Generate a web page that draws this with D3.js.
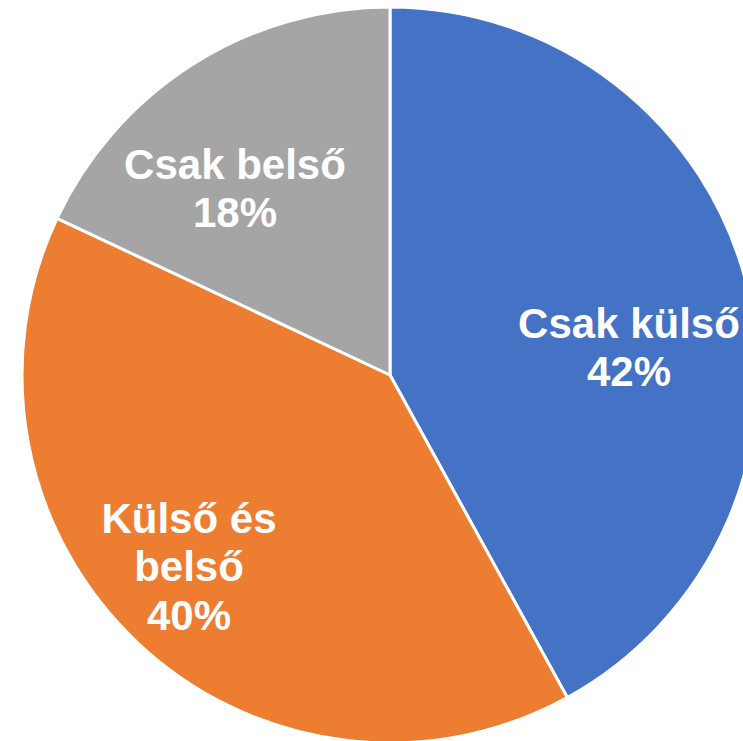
<!DOCTYPE html>
<html><head><meta charset="utf-8">
<script src="https://cdn.jsdelivr.net/npm/d3@7"></script>
<style>html,body{margin:0;padding:0;background:#fff;overflow:hidden}</style>
</head><body>
<svg id="c" width="743" height="741"></svg>
<script>
const categories = ["Csak külső", "Külső és belső", "Csak belső"];
const values = [42, 40, 18];
const labelLines = [["Csak külső"], ["Külső és", "belső"], ["Csak belső"]];
const colors = ["#4472C4", "#ED7D31", "#A5A5A5"];
// label block centers relative to pie center (layout)
const labelOffsets = [[239, -28], [-201, 191], [-155, -187]];

const svg = d3.select("#c");
const cx = 390, cy = 375, R = 368;
const g = svg.append("g").attr("transform", `translate(${cx},${cy})`);
const pie = d3.pie().sort(null).value(d => d)(values);
const arc = d3.arc().innerRadius(0).outerRadius(R);
g.selectAll("path").data(pie).join("path")
  .attr("d", arc).attr("fill", (d, i) => colors[i])
  .attr("stroke", "#fff").attr("stroke-width", 3).attr("stroke-linejoin", "round");

const fs = 42, lh = 48.5;
pie.forEach((d, i) => {
  const lines = labelLines[i].concat([values[i] + "%"]);
  const [ox, oy] = labelOffsets[i];
  const n = lines.length;
  const t = g.append("text").attr("text-anchor", "middle")
    .attr("font-family", "Liberation Sans, Arial, sans-serif")
    .attr("font-weight", "bold").attr("font-size", fs).attr("fill", "#fff");
  const blockH = 0.716 * fs + (n - 1) * lh;
  const firstBase = oy - blockH / 2 + 0.716 * fs;
  lines.forEach((s, j) => {
    t.append("tspan").attr("x", ox).attr("y", firstBase + j * lh).text(s);
  });
});
</script>
</body></html>
